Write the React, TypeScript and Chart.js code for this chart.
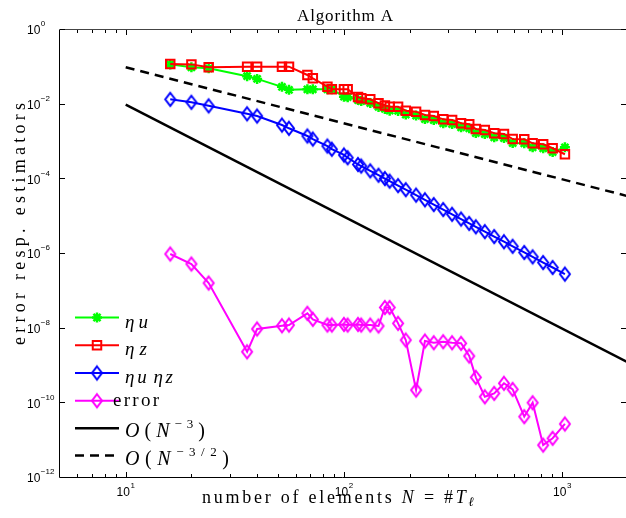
import React, { useEffect, useRef } from 'react';
import { Chart, registerables } from 'chart.js';
import { drawPoint } from 'chart.js/helpers';

Chart.register(...registerables);

// ---------- data ----------
const elements = [16, 20, 24, 36, 40, 52, 56, 68, 72, 84, 88, 100, 104, 116, 120, 132, 144, 154, 162, 177, 192, 214, 235, 258, 285, 313, 344, 375, 402, 442, 488, 541, 593, 670, 732, 818, 904, 1029];

const etaU = [0.12, 0.10, 0.094, 0.058, 0.049, 0.030, 0.025, 0.0258, 0.0258, 0.0258, 0.0258, 0.0164, 0.0159, 0.0133, 0.0125, 0.0111, 0.0087, 0.0077, 0.0069, 0.0068, 0.00545, 0.0051, 0.00413, 0.00388, 0.00317, 0.00303, 0.00248, 0.00233, 0.00174, 0.00164, 0.00134, 0.00128, 0.00094, 0.00092, 0.00072, 0.00068, 0.00054, 0.00072];

const etaZ = [0.123, 0.12, 0.1, 0.104, 0.104, 0.104, 0.104, 0.0623, 0.0508, 0.0303, 0.0258, 0.0258, 0.0258, 0.016, 0.0148, 0.0139, 0.0109, 0.0095, 0.0088, 0.0088, 0.0069, 0.0065, 0.0053, 0.00497, 0.00405, 0.00388, 0.00317, 0.00298, 0.00223, 0.0021, 0.00171, 0.00164, 0.0012, 0.00118, 0.00092, 0.00087, 0.00068, 0.00047];

const etaUetaZ = [0.0139, 0.0116, 0.0093, 0.0057, 0.00497, 0.00285, 0.00233, 0.00145, 0.0012, 0.00078, 0.00064, 0.00045, 0.00038, 0.00025, 0.000227, 1.69e-4, 1.29e-4, 1.05e-4, 8.95e-5, 6.8e-5, 5.3e-5, 3.78e-5, 2.83e-5, 2.11e-5, 1.55e-5, 1.16e-5, 8.65e-6, 6.6e-6, 5.35e-6, 3.98e-6, 2.94e-6, 2.13e-6, 1.61e-6, 1.1e-6, 8.4e-7, 5.9e-7, 4.35e-7, 2.9e-7];

const errorVals = [1.0e-6, 5.4e-7, 1.67e-7, 2.4e-9, 9.8e-9, 1.2e-8, 1.25e-8, 2.58e-8, 1.78e-8, 1.25e-8, 1.25e-8, 1.3e-8, 1.25e-8, 1.3e-8, 1.25e-8, 1.25e-8, 1.18e-8, 3.7e-8, 3.7e-8, 1.39e-8, 4.97e-9, 2.27e-10, 4.67e-9, 4.2e-9, 4.47e-9, 4.2e-9, 4.05e-9, 1.85e-9, 4.97e-10, 1.5e-10, 1.85e-10, 3.44e-10, 2.37e-10, 4.4e-11, 1.04e-10, 7.6e-12, 1.16e-11, 2.8e-11];

const refN = [10, 2000];
const refCubic = [1e-2, 1.25e-9];
const refThreeHalves = [1e-1, 3.54e-5];

const xMajorExps = [1, 2, 3];
const xMinorTicks = [6, 7, 8, 9, 20, 30, 40, 50, 60, 70, 80, 90, 200, 300, 400, 500, 600, 700, 800, 900];
const yMajorExps = [0, -2, -4, -6, -8, -10, -12];

const X_MIN = 5;
const X_MAX = 1960;
const Y_MIN = 1e-12;
const Y_MAX = 1;

// ---------- text helpers ----------
const SERIF = '"Liberation Serif", "DejaVu Serif", serif';
const SANS = '"Liberation Sans", Arial, sans-serif';

type Seg = { t: string; f: string; dy?: number; dx?: number };

function measureSegs(ctx: CanvasRenderingContext2D, segs: Seg[]) {
  let w = 0;
  let n = 0;
  for (const s of segs) {
    ctx.font = s.f;
    w += s.dx || 0;
    for (const ch of Array.from(s.t)) {
      w += ctx.measureText(ch).width;
      n++;
    }
  }
  return { w, n };
}

function drawSegs(
  ctx: CanvasRenderingContext2D,
  segs: Seg[],
  x: number,
  y: number,
  align: 'left' | 'center',
  width?: number
) {
  const { w, n } = measureSegs(ctx, segs);
  const ls = width ? Math.max(0, (width - w) / Math.max(1, n - 1)) : 0;
  const total = w + ls * (n - 1);
  let cx = align === 'center' ? x - total / 2 : x;
  ctx.textAlign = 'left';
  ctx.textBaseline = 'alphabetic';
  for (const s of segs) {
    ctx.font = s.f;
    cx += s.dx || 0;
    for (const ch of Array.from(s.t)) {
      ctx.fillText(ch, cx, y + (s.dy || 0));
      cx += ctx.measureText(ch).width + ls;
    }
  }
}

const rm = (px: number) => `${px}px ${SERIF}`;
const it = (px: number) => `italic ${px}px ${SERIF}`;

const titleSegs: Seg[] = [{ t: 'Algorithm A', f: rm(17) }];
const xLabelSegs: Seg[] = [
  { t: 'number of elements ', f: rm(18) },
  { t: 'N', f: it(18) },
  { t: ' = #', f: rm(18) },
  { t: 'T', f: it(18) },
  { t: 'ℓ', f: it(13), dy: 3 },
];
const yLabelSegs: Seg[] = [{ t: 'error resp. estimators', f: rm(18) }];

const legendLabels: Seg[][] = [
  [{ t: 'η', f: it(19) }, { t: 'u', f: it(19) }],
  [{ t: 'η', f: it(19) }, { t: 'z', f: it(19) }],
  [{ t: 'η', f: it(19) }, { t: 'u', f: it(19) }, { t: 'η', f: it(19), dx: 4 }, { t: 'z', f: it(19) }],
  [{ t: 'error', f: rm(19) }],
  [{ t: 'O', f: it(20) }, { t: '(', f: rm(20) }, { t: 'N', f: it(20) }, { t: '−3', f: rm(13), dy: -9 }, { t: ')', f: rm(20) }],
  [{ t: 'O', f: it(20) }, { t: '(', f: rm(20) }, { t: 'N', f: it(20) }, { t: '−3/2', f: rm(13), dy: -9 }, { t: ')', f: rm(20) }],
];
const legendTextX = [125, 125, 125, 113, 125, 125];
const legendTextW = [23, 22, 48, 46, 80, 104];
const legendTextDy = [10, 10, 10, 5, 8.5, 9];
const legendLineY = [317.5, 345.3, 373, 400.7, 428.3, 455.5];

function makeDiamond(color: string, w: number, h: number, lw: number) {
  const c = document.createElement('canvas');
  c.width = w + lw * 2 + 2;
  c.height = h + lw * 2 + 2;
  const g = c.getContext('2d')!;
  g.strokeStyle = color;
  g.lineWidth = lw;
  const cx = c.width / 2;
  const cy = c.height / 2;
  g.beginPath();
  g.moveTo(cx, cy - h / 2);
  g.lineTo(cx + w / 2, cy);
  g.lineTo(cx, cy + h / 2);
  g.lineTo(cx - w / 2, cy);
  g.closePath();
  g.stroke();
  return c;
}

const decor = {
  id: 'decor',
  afterDatasetsDraw(chart: any) {
    const { ctx } = chart;
    const xs = chart.scales.x;
    const ys = chart.scales.y;
    ctx.save();

    // axes box
    ctx.lineWidth = 1;
    ctx.strokeStyle = '#000';
    ctx.beginPath();
    ctx.moveTo(59.5, 29.5);
    ctx.lineTo(59.5, 477.5);
    ctx.lineTo(626, 477.5);
    ctx.stroke();
    ctx.strokeStyle = '#444';
    ctx.beginPath();
    ctx.moveTo(59.5, 29.5);
    ctx.lineTo(626, 29.5);
    ctx.stroke();

    // ticks
    ctx.strokeStyle = '#000';
    ctx.beginPath();
    for (const e of yMajorExps) {
      const py = Math.round(ys.getPixelForValue(Math.pow(10, e))) - 0.5;
      ctx.moveTo(60, py);
      ctx.lineTo(65, py);
      ctx.moveTo(626, py);
      ctx.lineTo(621, py);
    }
    for (const e of xMajorExps) {
      const px = Math.round(xs.getPixelForValue(Math.pow(10, e))) + 0.5;
      ctx.moveTo(px, 477);
      ctx.lineTo(px, 472);
      ctx.moveTo(px, 30);
      ctx.lineTo(px, 35);
    }
    for (const v of xMinorTicks) {
      const px = Math.round(xs.getPixelForValue(v)) + 0.5;
      ctx.moveTo(px, 477);
      ctx.lineTo(px, 474);
      ctx.moveTo(px, 30);
      ctx.lineTo(px, 33);
    }
    ctx.stroke();

    // tick labels
    ctx.fillStyle = '#000';
    for (const e of yMajorExps) {
      const py = ys.getPixelForValue(Math.pow(10, e));
      const segs: Seg[] = [
        { t: '10', f: `12px ${SANS}` },
        { t: e === 0 ? '0' : '−' + String(-e), f: `8px ${SANS}`, dy: -8, dx: 0.5 },
      ];
      drawSegs(ctx, segs, 27, py + 4.3, 'left');
    }
    for (const e of xMajorExps) {
      const px = xs.getPixelForValue(Math.pow(10, e));
      const segs: Seg[] = [
        { t: '10', f: `12px ${SANS}` },
        { t: String(e), f: `8px ${SANS}`, dy: -8, dx: 0.5 },
      ];
      drawSegs(ctx, segs, px, 496, 'center');
    }

    // title and axis labels
    drawSegs(ctx, titleSegs, 345, 21, 'center', 96);
    drawSegs(ctx, xLabelSegs, 338, 503, 'center', 272);
    ctx.save();
    ctx.translate(25, 224);
    ctx.rotate(-Math.PI / 2);
    drawSegs(ctx, yLabelSegs, 0, 0, 'center', 242);
    ctx.restore();

    // legend
    chart.data.datasets.forEach((ds: any, i: number) => {
      const ly = legendLineY[i];
      ctx.save();
      ctx.strokeStyle = ds.borderColor;
      ctx.lineWidth = ds.borderWidth;
      ctx.setLineDash(ds.borderDash || []);
      ctx.beginPath();
      ctx.moveTo(75, ly);
      ctx.lineTo(119, ly);
      ctx.stroke();
      ctx.setLineDash([]);
      if (ds.pointRadius > 0) {
        ctx.strokeStyle = ds.pointBorderColor;
        ctx.fillStyle = 'rgba(0,0,0,0)';
        ctx.lineWidth = ds.pointBorderWidth;
        drawPoint(ctx, { pointStyle: ds.pointStyle, rotation: 0, radius: ds.pointRadius, borderWidth: ds.pointBorderWidth }, 97, ly);
      }
      ctx.restore();
      ctx.fillStyle = '#000';
      drawSegs(ctx, legendLabels[i], legendTextX[i], ly + legendTextDy[i], 'left', legendTextW[i] || undefined);
    });

    ctx.restore();
  },
};

export default function App() {
  const ref = useRef<HTMLCanvasElement | null>(null);

  useEffect(() => {
    const canvas = ref.current;
    if (!canvas) return;
    const blueDiamond = makeDiamond('#0000ff', 10, 13, 2);
    const magentaDiamond = makeDiamond('#ff00ff', 10, 13, 2);
    const pts = (vals: number[], xsArr: number[] = elements) => vals.map((v, i) => ({ x: xsArr[i], y: v }));

    const chart = new Chart(canvas, {
      type: 'scatter',
      data: {
        datasets: [
          {
            label: 'ηu',
            data: pts(etaU),
            showLine: true,
            borderColor: '#00ff00',
            backgroundColor: 'rgba(0,0,0,0)',
            borderWidth: 2,
            pointStyle: 'star',
            pointRadius: 5,
            pointBorderColor: '#00ff00',
            pointBorderWidth: 2.5,
            order: 6,
          },
          {
            label: 'ηz',
            data: pts(etaZ),
            showLine: true,
            borderColor: '#ff0000',
            backgroundColor: 'rgba(0,0,0,0)',
            borderWidth: 2,
            pointStyle: 'rect',
            pointRadius: 6,
            pointBorderColor: '#ff0000',
            pointBackgroundColor: 'rgba(0,0,0,0)',
            pointBorderWidth: 2,
            order: 5,
          },
          {
            label: 'ηuηz',
            data: pts(etaUetaZ),
            showLine: true,
            borderColor: '#0000ff',
            backgroundColor: 'rgba(0,0,0,0)',
            borderWidth: 2,
            pointStyle: blueDiamond,
            pointRadius: 6,
            pointBorderColor: '#0000ff',
            pointBorderWidth: 2,
            order: 4,
          },
          {
            label: 'error',
            data: pts(errorVals),
            showLine: true,
            borderColor: '#ff00ff',
            backgroundColor: 'rgba(0,0,0,0)',
            borderWidth: 2,
            pointStyle: magentaDiamond,
            pointRadius: 6,
            pointBorderColor: '#ff00ff',
            pointBorderWidth: 2,
            order: 3,
          },
          {
            label: 'O(N^-3)',
            data: pts(refCubic, refN),
            showLine: true,
            borderColor: '#000000',
            backgroundColor: 'rgba(0,0,0,0)',
            borderWidth: 2.5,
            pointRadius: 0,
            order: 2,
          },
          {
            label: 'O(N^-3/2)',
            data: pts(refThreeHalves, refN),
            showLine: true,
            borderColor: '#000000',
            backgroundColor: 'rgba(0,0,0,0)',
            borderWidth: 2.5,
            borderDash: [9, 6],
            pointRadius: 0,
            order: 1,
          },
        ],
      },
      options: {
        responsive: false,
        animation: false,
        devicePixelRatio: 1,
        layout: { autoPadding: false, padding: { left: 60, top: 30, right: 0, bottom: 40 } },
        plugins: {
          legend: { display: false },
          tooltip: { enabled: false },
          title: { display: false },
        },
        scales: {
          x: { type: 'logarithmic', min: X_MIN, max: X_MAX, display: false },
          y: { type: 'logarithmic', min: Y_MIN, max: Y_MAX, display: false },
        },
      },
      plugins: [decor],
    } as any);

    return () => chart.destroy();
  }, []);

  return (
    <div style={{ position: 'fixed', left: 0, top: 0, width: 626, height: 518, background: '#fff' }}>
      <canvas ref={ref} width={626} height={518} style={{ display: 'block', width: 626, height: 518 }} />
    </div>
  );
}
